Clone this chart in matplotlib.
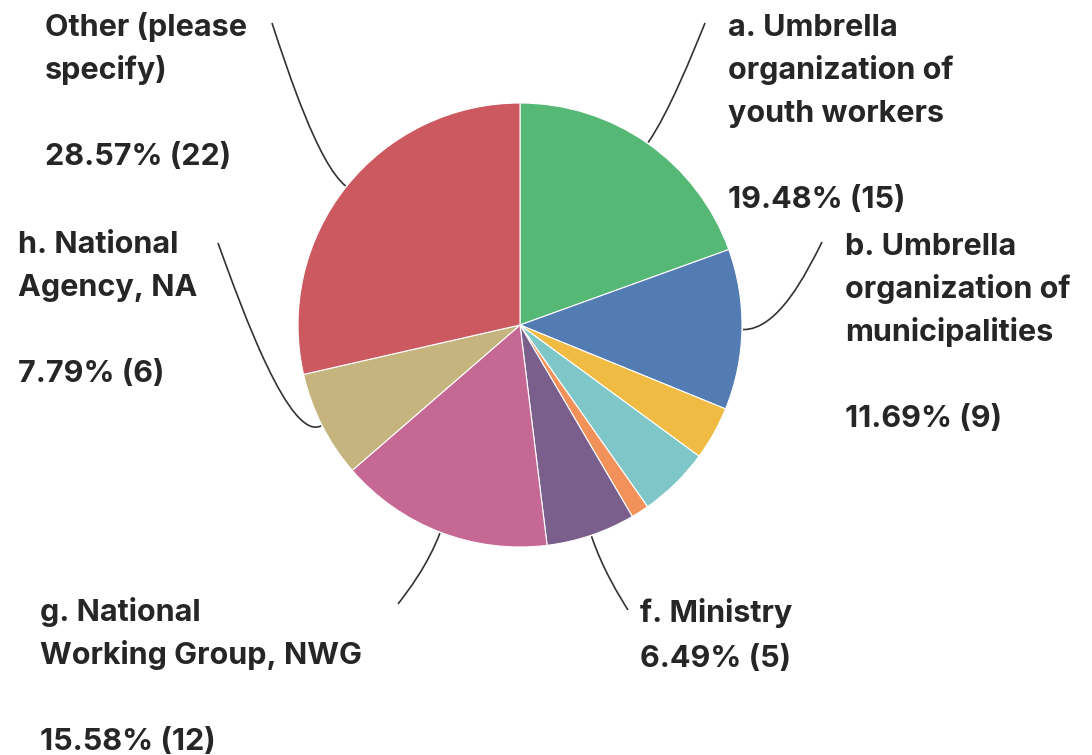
import numpy as np
import matplotlib.pyplot as plt
from matplotlib.path import Path
from matplotlib.patches import PathPatch

categories = ["a. Umbrella\norganization of\nyouth workers",
              "b. Umbrella\norganization of\nmunicipalities",
              "c.", "d.", "e.",
              "f. Ministry",
              "g. National\nWorking Group, NWG",
              "h. National\nAgency, NA",
              "Other (please\nspecify)"]
counts = [15, 9, 3, 4, 1, 5, 12, 6, 22]
colors = ["#55b874", "#527cb2", "#f0bb42", "#7fc6c9", "#f2925a",
          "#7a5f8d", "#c56893", "#c6b47f", "#cc5960"]

W, H = 1092, 755
CX, CY, R = 520, 325, 222   # pie centre / radius in image pixels

# label layout (image pixels): text x, first baseline, leader end, blank line before value
label_pos = {
    0: (728, 36, (705, 23), True),
    1: (845, 255, (822, 242), True),
    5: (640, 622, (628, 610), False),
    6: (40, 621, (398, 604), True),
    7: (18, 253, (218, 243), True),
    8: (45, 36, (272, 23), True),
}
PITCH = 43
TEXT_COLOR = "#262626"


def flip(x, y):
    return x, H - y


def main():
    plt.rcParams['font.family'] = ['Inter', 'DejaVu Sans']
    fig = plt.figure(figsize=(W / 100, H / 100), dpi=100)
    ax = fig.add_axes([0, 0, 1, 1])

    wedges, _ = ax.pie(counts, colors=colors, startangle=90, counterclock=False,
                       center=flip(CX, CY), radius=R,
                       wedgeprops=dict(linewidth=0.8, edgecolor='white'))
    ax.set_xlim(0, W)
    ax.set_ylim(0, H)
    ax.set_aspect('equal')
    ax.axis('off')

    total = sum(counts)
    for i, (tx, ty, end, blank) in label_pos.items():
        w = wedges[i]
        ang = np.deg2rad((w.theta1 + w.theta2) / 2)
        u = np.array([np.cos(ang), np.sin(ang)])
        p0 = np.array(w.center) + u * (w.r + 1)
        p1 = p0 + u * 35
        p3 = np.array(flip(*end))
        p2 = p3 + (p1 - p3) * 0.35
        path = Path([p0, p1, p2, p3],
                    [Path.MOVETO, Path.CURVE4, Path.CURVE4, Path.CURVE4])
        ax.add_patch(PathPatch(path, fill=False, lw=1.2, edgecolor='#333333'))

        lines = categories[i].split("\n")
        if blank:
            lines.append("")
        lines.append(f"{counts[i] / total * 100:.2f}% ({counts[i]})")
        step = PITCH if blank else 45
        for k, s in enumerate(lines):
            if s:
                ax.text(*flip(tx, ty + k * step), s, ha='left', va='baseline',
                        fontsize=22, fontweight='bold', color=TEXT_COLOR)

    fig.savefig('out.png', dpi=100)


if __name__ == '__main__':
    main()
